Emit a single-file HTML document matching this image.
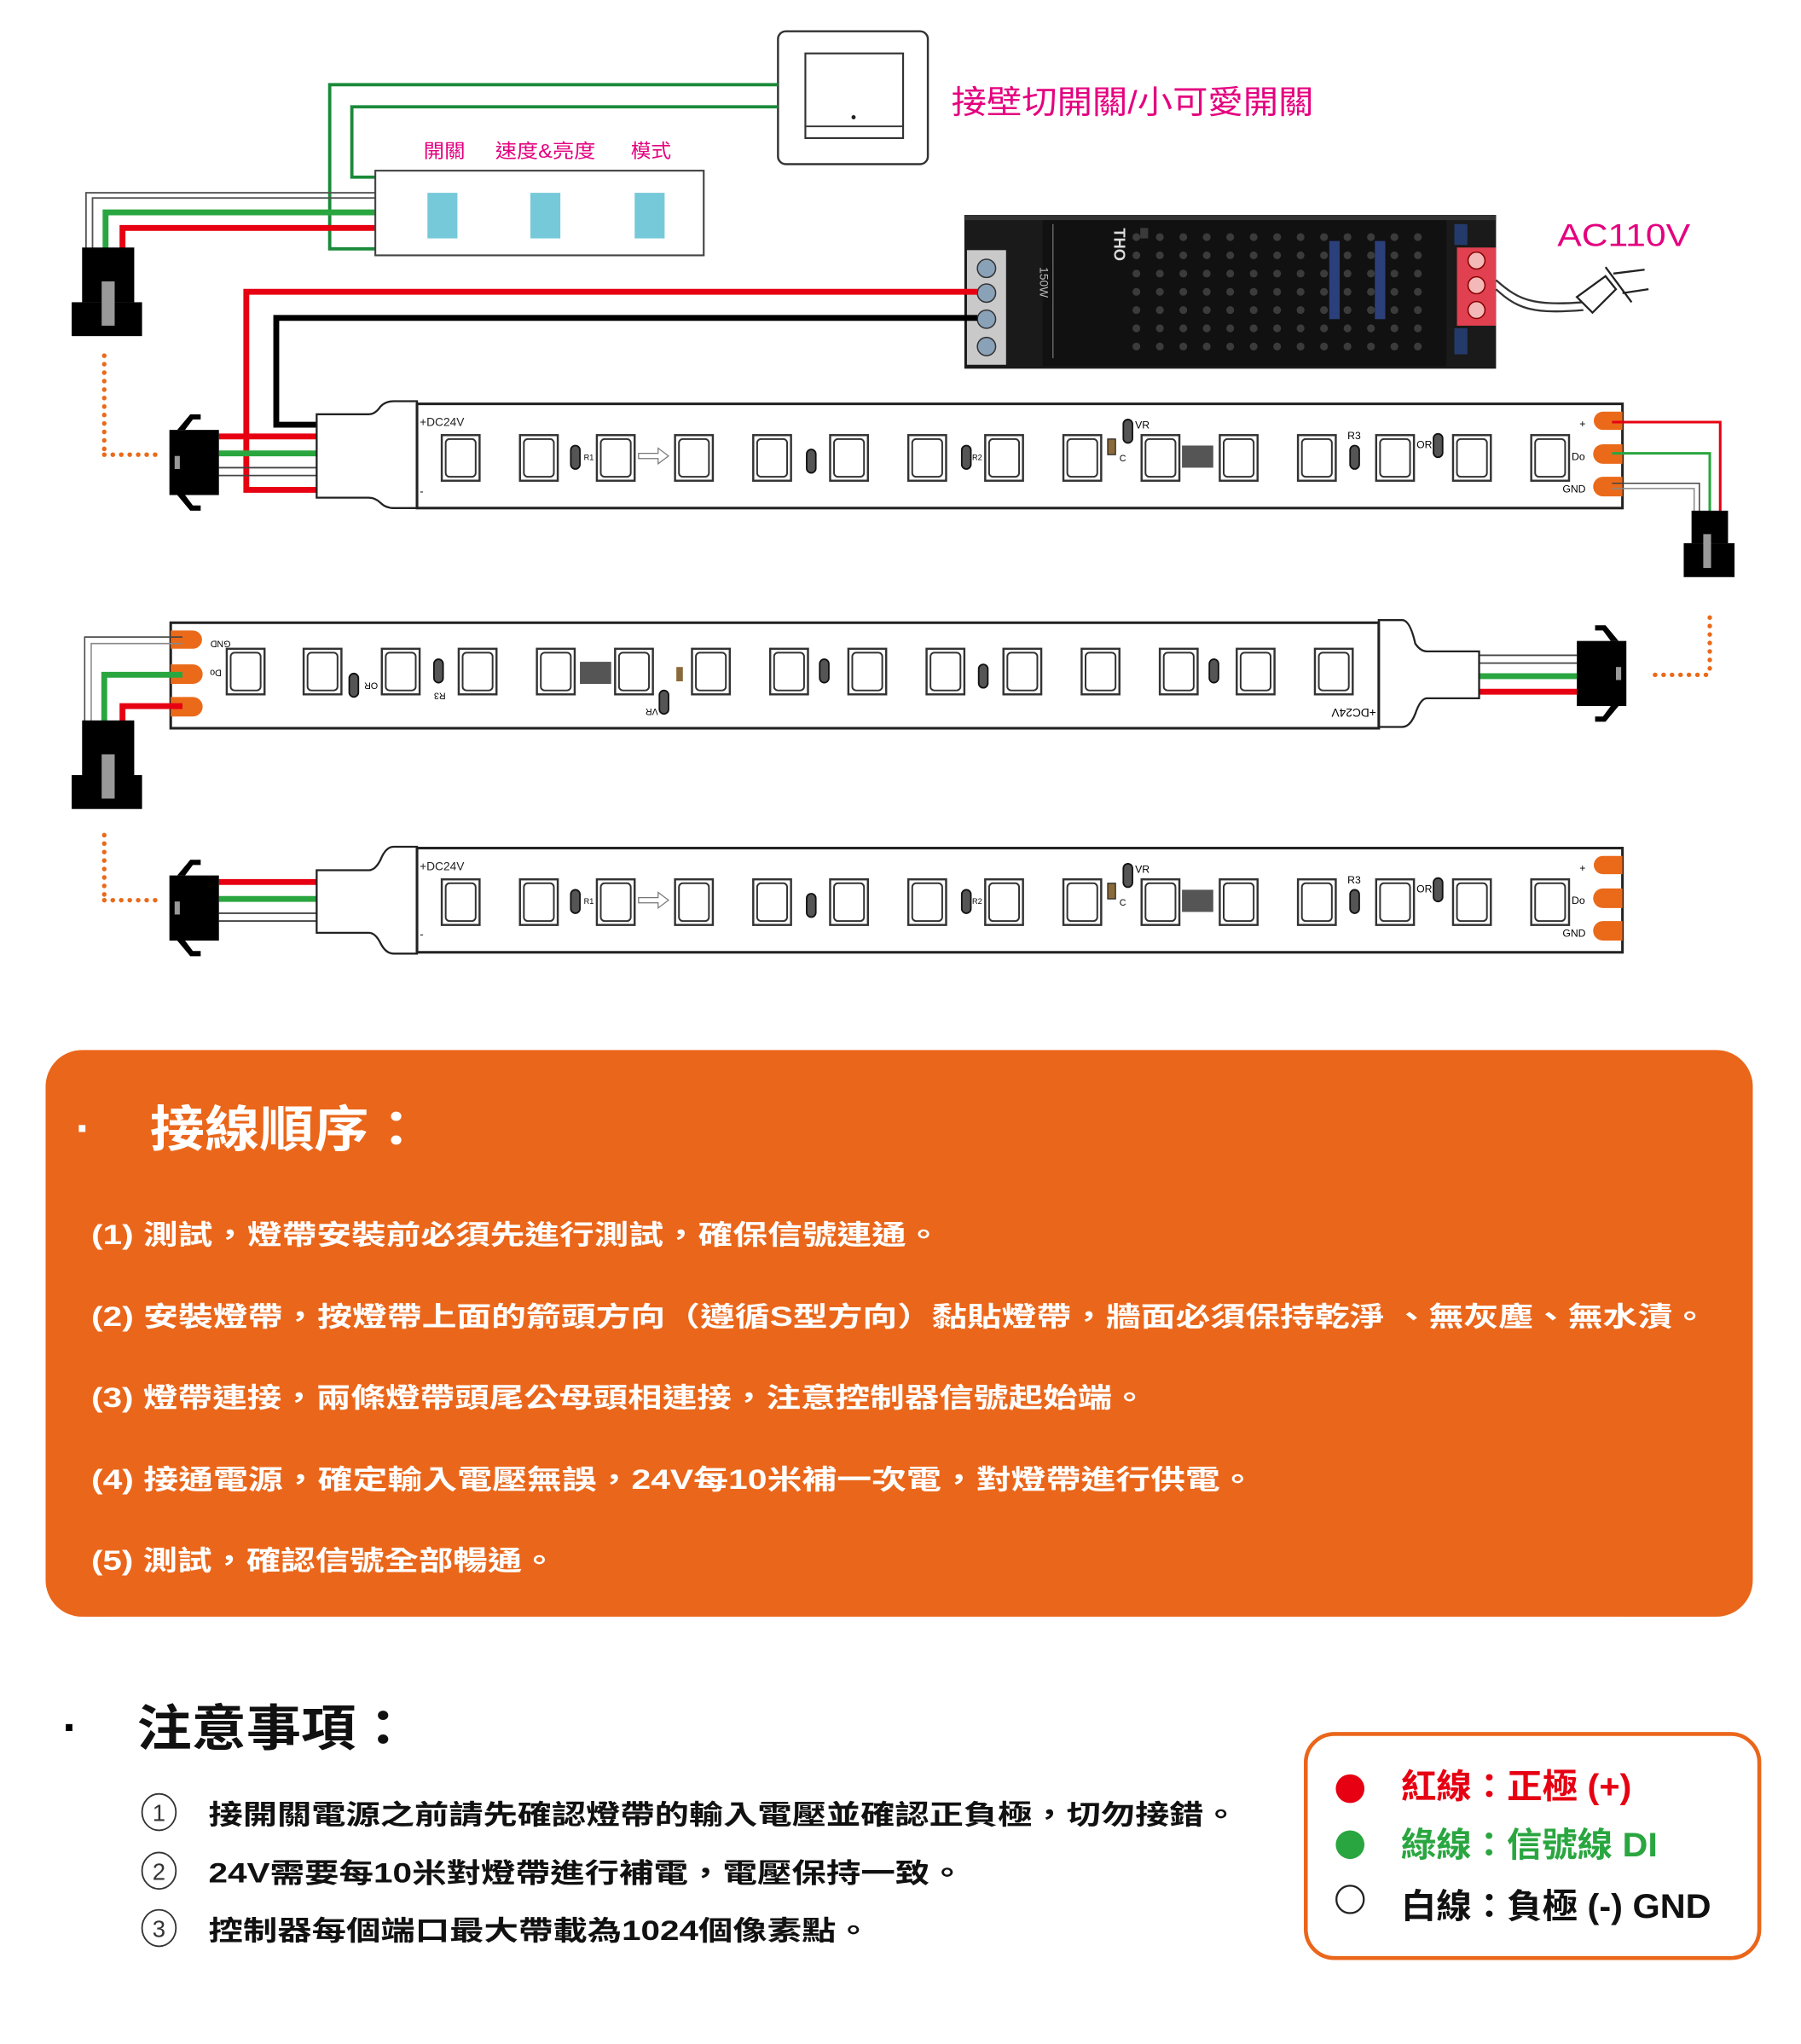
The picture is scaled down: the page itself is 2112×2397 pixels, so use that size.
<!DOCTYPE html>
<html><head><meta charset="utf-8"><style>
html,body{margin:0;padding:0;background:#fff}
svg{display:block}
text{font-family:"Liberation Sans","Noto Sans CJK TC",sans-serif}
</style></head><body>
<svg width="2112" height="2397" viewBox="0 0 1382 1569" preserveAspectRatio="none" xmlns="http://www.w3.org/2000/svg">
<defs>
<g id="led">
<rect x="0" y="0" width="29" height="35" fill="#fff" stroke="#333" stroke-width="1.6"/>
<rect x="3" y="3" width="23" height="29" rx="3" fill="#fff" stroke="#333" stroke-width="1.3"/>
</g>
<g id="res"><rect x="0" y="0" width="7" height="18" rx="3.5" fill="#555" stroke="#111" stroke-width="1.2"/></g>
<g id="conn">
<rect x="0" y="12" width="38" height="50" fill="#000"/>
<polygon points="6,12 16,0 24,0 24,4 18,4 12,12" fill="#000"/>
<polygon points="6,62 16,74 24,74 24,70 18,70 12,62" fill="#000"/>
<rect x="4" y="32" width="4" height="10" fill="#999"/>
</g>
<g id="bigconn">
<rect x="8" y="0" width="40" height="42" fill="#000"/>
<rect x="0" y="42" width="54" height="26" fill="#000"/>
<rect x="23" y="26" width="10" height="34" fill="#999"/>
</g>
<g id="dotsV"><circle r="2.3" fill="#ea6a1a"/></g>
</defs>

<!-- wall switch -->
<rect x="597" y="24" width="115" height="102" rx="6" fill="#fff" stroke="#333" stroke-width="1.6"/>
<rect x="618" y="41" width="75" height="65" fill="#fff" stroke="#333" stroke-width="1.4"/>
<line x1="618" y1="97" x2="693" y2="97" stroke="#333" stroke-width="1.2"/>
<circle cx="655" cy="90" r="1.6" fill="#222"/>
<text x="730" y="87" font-size="25" fill="#e4007f" textLength="278" lengthAdjust="spacingAndGlyphs">接壁切開關/小可愛開關</text>

<!-- green wires switch -> controller -->
<polyline points="597,65 253,65 253,191 288,191" fill="none" stroke="#1a8a3a" stroke-width="2.5"/>
<polyline points="597,82 270,82 270,136 288,136" fill="none" stroke="#1a8a3a" stroke-width="2.5"/>

<!-- controller -->
<text x="325" y="121" font-size="15" fill="#e4007f" textLength="32" lengthAdjust="spacingAndGlyphs">開關</text>
<text x="380" y="121" font-size="15" fill="#e4007f" textLength="77" lengthAdjust="spacingAndGlyphs">速度&amp;亮度</text>
<text x="484" y="121" font-size="15" fill="#e4007f" textLength="31" lengthAdjust="spacingAndGlyphs">模式</text>

<!-- wires controller -> left connector -->
<polyline points="288,148 66,148 66,192" fill="none" stroke="#555" stroke-width="1.2"/>
<polyline points="288,152 71,152 71,192" fill="none" stroke="#555" stroke-width="1.2"/>
<polyline points="288,163 81,163 81,192" fill="none" stroke="#2aa640" stroke-width="4.5"/>
<polyline points="288,175 94,175 94,192" fill="none" stroke="#e60012" stroke-width="4.5"/>
<rect x="288" y="131" width="252" height="65" fill="#fff" stroke="#444" stroke-width="1.4"/>
<rect x="328" y="148" width="23" height="35" fill="#76c9d9"/>
<rect x="407" y="148" width="23" height="35" fill="#76c9d9"/>
<rect x="487" y="148" width="23" height="35" fill="#76c9d9"/>
<use href="#bigconn" x="55" y="190"/>

<!-- PSU -->
<rect x="740" y="165" width="408" height="118" fill="#1a1a1a"/>
<rect x="740" y="165" width="408" height="4" fill="#333"/>
<rect x="800" y="169" width="310" height="112" fill="#111"/>
<rect x="742" y="192" width="30" height="88" fill="#c9c9c9"/>
<g fill="#8aa2b8" stroke="#333" stroke-width="1">
<circle cx="757" cy="206" r="7"/><circle cx="757" cy="225" r="7"/><circle cx="757" cy="245" r="7"/><circle cx="757" cy="266" r="7"/></g>
<rect x="1118" y="190" width="30" height="60" fill="#e04050"/>
<g fill="#f3b8b8" stroke="#800" stroke-width="1"><circle cx="1133" cy="200" r="6.5"/><circle cx="1133" cy="219" r="6.5"/><circle cx="1133" cy="238" r="6.5"/></g>
<rect x="1116" y="172" width="10" height="16" fill="#243a6a"/>
<rect x="1116" y="252" width="10" height="20" fill="#243a6a"/>
<line x1="808" y1="172" x2="808" y2="275" stroke="#777" stroke-width="0.8"/>
<text x="0" y="0" font-size="12" fill="#ddd" transform="translate(855,175) rotate(90)" font-weight="bold">THO</text>
<text x="0" y="0" font-size="9" fill="#bbb" transform="translate(798,205) rotate(90)">150W</text>
<g fill="#3a3a3a">
<rect x="875" y="175" width="6" height="8"/>
</g>
<g id="holes" fill="#3b3b3b">
<circle cx="872" cy="182" r="3"/><circle cx="890" cy="182" r="3"/><circle cx="908" cy="182" r="3"/><circle cx="926" cy="182" r="3"/><circle cx="944" cy="182" r="3"/><circle cx="962" cy="182" r="3"/><circle cx="980" cy="182" r="3"/><circle cx="998" cy="182" r="3"/><circle cx="1016" cy="182" r="3"/><circle cx="1034" cy="182" r="3"/><circle cx="1052" cy="182" r="3"/><circle cx="1070" cy="182" r="3"/><circle cx="1088" cy="182" r="3"/>
</g>
<use href="#holes" y="14"/><use href="#holes" y="28"/><use href="#holes" y="42"/><use href="#holes" y="56"/><use href="#holes" y="70"/><use href="#holes" y="84"/>
<g fill="#2b3f7a"><rect x="1020" y="185" width="8" height="60"/><rect x="1055" y="185" width="8" height="60"/></g>
<path d="M1148,215 C1165,230 1175,235 1215,232" fill="none" stroke="#333" stroke-width="1.5"/>
<path d="M1148,222 C1165,238 1178,241 1215,238" fill="none" stroke="#333" stroke-width="1.5"/>
<path d="M1210,228 L1232,212 L1240,222 L1222,240 Z M1232,205 L1252,232 M1238,210 L1262,207 M1245,225 L1265,222" fill="#fff" stroke="#222" stroke-width="1.5"/>
<text x="1195" y="189" font-size="24" fill="#e4007f" textLength="102" lengthAdjust="spacingAndGlyphs">AC110V</text>

<!-- PSU wires -->
<polyline points="750,224 189,224 189,376 243,376" fill="none" stroke="#e60012" stroke-width="4.5"/>
<polyline points="750,244 212,244 212,326 243,326" fill="none" stroke="#000" stroke-width="4.5"/>

<!-- orange dotted line 1 -->
<line x1="80" y1="273" x2="80" y2="349" stroke="#ea6a1a" stroke-width="3.5" stroke-dasharray="0.1 6.4" stroke-linecap="round"/>
<line x1="80" y1="349" x2="124" y2="349" stroke="#ea6a1a" stroke-width="3.5" stroke-dasharray="0.1 6.4" stroke-linecap="round"/>

<!-- STRIP 1 -->
<line x1="168" y1="335" x2="243" y2="335" stroke="#e60012" stroke-width="4.5"/>
<line x1="168" y1="348" x2="243" y2="348" stroke="#2aa640" stroke-width="4.5"/>
<line x1="168" y1="359" x2="243" y2="359" stroke="#444" stroke-width="1.2"/>
<line x1="168" y1="365" x2="243" y2="365" stroke="#444" stroke-width="1.2"/>
<use href="#conn" x="130" y="318"/>
<path d="M243,318 L283,318 Q288,318 292,312 Q296,308 302,308 L320,308 L320,390 L302,390 Q296,390 292,386 Q288,382 283,382 L243,382 Z" fill="#fff" stroke="#222" stroke-width="1.5"/>
<rect x="320" y="310" width="925" height="80" fill="#fff" stroke="#222" stroke-width="2"/>
<text x="322" y="327" font-size="9" fill="#222">+DC24V</text>
<text x="322" y="380" font-size="9" fill="#222">-</text>
<g>
<use href="#led" x="339" y="334"/><use href="#led" x="399" y="334"/><use href="#led" x="458" y="334"/><use href="#led" x="518" y="334"/><use href="#led" x="578" y="334"/><use href="#led" x="637" y="334"/><use href="#led" x="697" y="334"/><use href="#led" x="756" y="334"/><use href="#led" x="816" y="334"/><use href="#led" x="876" y="334"/><use href="#led" x="936" y="334"/><use href="#led" x="996" y="334"/><use href="#led" x="1056" y="334"/><use href="#led" x="1115" y="334"/><use href="#led" x="1175" y="334"/>
</g>
<use href="#res" x="438" y="342"/><text x="448" y="353" font-size="6">R1</text>
<use href="#res" x="619" y="345"/>
<use href="#res" x="738" y="342"/><text x="746" y="353" font-size="6">R2</text>
<use href="#res" x="862" y="322"/><text x="871" y="329" font-size="8">VR</text>
<rect x="850" y="337" width="6" height="12" fill="#8a6a3a" stroke="#222" stroke-width="0.8"/><text x="859" y="354" font-size="7">C</text>
<rect x="907" y="342" width="24" height="17" fill="#555"/>
<use href="#res" x="1036" y="342"/><text x="1034" y="337" font-size="8">R3</text>
<use href="#res" x="1100" y="333"/><text x="1087" y="344" font-size="8">OR</text>
<path d="M490,348 L505,348 L505,344 L513,350 L505,356 L505,352 L490,352 Z" fill="#fff" stroke="#777" stroke-width="0.8"/>
<g fill="#ea6a1a"><path d="M1245,316 L1230,316 A7,7 0 0 0 1230,330 L1245,330 Z"/><path d="M1245,341 L1230,341 A7.5,7.5 0 0 0 1230,356 L1245,356 Z"/><path d="M1245,366 L1230,366 A7.5,7.5 0 0 0 1230,381 L1245,381 Z"/></g>
<text x="1212" y="328" font-size="8">+</text><text x="1206" y="353" font-size="8">Do</text><text x="1199" y="378" font-size="8">GND</text>
<polyline points="1237,324 1320,324 1320,393" fill="none" stroke="#e60012" stroke-width="2"/>
<polyline points="1237,348 1312,348 1312,393" fill="none" stroke="#2aa640" stroke-width="2"/>
<polyline points="1237,371 1304,371 1304,393" fill="none" stroke="#444" stroke-width="1"/>
<polyline points="1237,375 1300,375 1300,393" fill="none" stroke="#888" stroke-width="1"/>
<rect x="1298" y="392" width="28" height="25" fill="#000"/>
<rect x="1292" y="417" width="39" height="26" fill="#000"/>
<rect x="1307" y="410" width="6" height="26" fill="#999"/>

<!-- STRIP 2 (mirrored) -->
<line x1="1312" y1="474" x2="1312" y2="518" stroke="#ea6a1a" stroke-width="3.5" stroke-dasharray="0.1 6.4" stroke-linecap="round"/>
<line x1="1270" y1="518" x2="1312" y2="518" stroke="#ea6a1a" stroke-width="3.5" stroke-dasharray="0.1 6.4" stroke-linecap="round"/>
<line x1="1135" y1="503" x2="1210" y2="503" stroke="#444" stroke-width="1.2"/>
<line x1="1135" y1="509" x2="1210" y2="509" stroke="#444" stroke-width="1.2"/>
<line x1="1135" y1="519" x2="1210" y2="519" stroke="#2aa640" stroke-width="4.5"/>
<line x1="1135" y1="531" x2="1210" y2="531" stroke="#e60012" stroke-width="4.5"/>
<g transform="translate(1378,0) scale(-1,1)"><use href="#conn" x="130" y="480"/></g>
<path d="M1135,500 L1095,500 Q1090,500 1086,494 Q1082,476 1076,476 L1058,476 L1058,558 L1076,558 Q1082,558 1086,548 Q1090,536 1095,536 L1135,536 Z" fill="#fff" stroke="#222" stroke-width="1.5"/>
<rect x="131" y="478" width="927" height="81" fill="#fff" stroke="#222" stroke-width="2"/>
<g>
<use href="#led" x="174" y="498"/><use href="#led" x="233" y="498"/><use href="#led" x="293" y="498"/><use href="#led" x="352" y="498"/><use href="#led" x="412" y="498"/><use href="#led" x="472" y="498"/><use href="#led" x="531" y="498"/><use href="#led" x="591" y="498"/><use href="#led" x="651" y="498"/><use href="#led" x="711" y="498"/><use href="#led" x="770" y="498"/><use href="#led" x="830" y="498"/><use href="#led" x="890" y="498"/><use href="#led" x="949" y="498"/><use href="#led" x="1009" y="498"/>
</g>
<use href="#res" x="268" y="517"/><use href="#res" x="333" y="506"/><use href="#res" x="629" y="506"/><use href="#res" x="751" y="510"/><use href="#res" x="928" y="506"/><use href="#res" x="506" y="530"/>
<rect x="445" y="508" width="24" height="17" fill="#555"/>
<rect x="519" y="512" width="5" height="11" fill="#8a6a3a"/>
<text x="0" y="0" font-size="9" transform="translate(1056,544) rotate(180)">+DC24V</text>
<text x="0" y="0" font-size="7" transform="translate(177,492) rotate(180)">GND</text>
<text x="0" y="0" font-size="7" transform="translate(170,514) rotate(180)">Do</text>
<text x="0" y="0" font-size="7" transform="translate(290,524) rotate(180)">OR</text>
<text x="0" y="0" font-size="7" transform="translate(342,532) rotate(180)">R3</text>
<text x="0" y="0" font-size="7" transform="translate(505,544) rotate(180)">VR</text>
<g fill="#ea6a1a"><path d="M131,484 L148,484 A7,7 0 0 1 148,498 L131,498 Z"/><path d="M131,510 L148,510 A7.5,7.5 0 0 1 148,525 L131,525 Z"/><path d="M131,535 L148,535 A7.5,7.5 0 0 1 148,550 L131,550 Z"/></g>
<polyline points="140,489 65,489 65,555" fill="none" stroke="#444" stroke-width="1"/>
<polyline points="140,494 70,494 70,555" fill="none" stroke="#888" stroke-width="1"/>
<polyline points="140,518 80,518 80,555" fill="none" stroke="#2aa640" stroke-width="4.5"/>
<polyline points="140,542 94,542 94,555" fill="none" stroke="#e60012" stroke-width="4.5"/>
<use href="#bigconn" x="55" y="553"/>

<!-- STRIP 3 -->
<line x1="80" y1="641" x2="80" y2="691" stroke="#ea6a1a" stroke-width="3.5" stroke-dasharray="0.1 6.4" stroke-linecap="round"/>
<line x1="80" y1="691" x2="124" y2="691" stroke="#ea6a1a" stroke-width="3.5" stroke-dasharray="0.1 6.4" stroke-linecap="round"/>
<line x1="168" y1="677" x2="243" y2="677" stroke="#e60012" stroke-width="4.5"/>
<line x1="168" y1="690" x2="243" y2="690" stroke="#2aa640" stroke-width="4.5"/>
<line x1="168" y1="701" x2="243" y2="701" stroke="#444" stroke-width="1.2"/>
<line x1="168" y1="707" x2="243" y2="707" stroke="#444" stroke-width="1.2"/>
<use href="#conn" x="130" y="660"/>
<path d="M243,668 L283,668 Q288,668 292,660 Q296,650 302,650 L320,650 L320,732 L302,732 Q296,732 292,724 Q288,716 283,716 L243,716 Z" fill="#fff" stroke="#222" stroke-width="1.5"/>
<rect x="320" y="651" width="925" height="80" fill="#fff" stroke="#222" stroke-width="2"/>
<text x="322" y="668" font-size="9" fill="#222">+DC24V</text>
<text x="322" y="720" font-size="9" fill="#222">-</text>
<g>
<use href="#led" x="339" y="675"/><use href="#led" x="399" y="675"/><use href="#led" x="458" y="675"/><use href="#led" x="518" y="675"/><use href="#led" x="578" y="675"/><use href="#led" x="637" y="675"/><use href="#led" x="697" y="675"/><use href="#led" x="756" y="675"/><use href="#led" x="816" y="675"/><use href="#led" x="876" y="675"/><use href="#led" x="936" y="675"/><use href="#led" x="996" y="675"/><use href="#led" x="1056" y="675"/><use href="#led" x="1115" y="675"/><use href="#led" x="1175" y="675"/>
</g>
<use href="#res" x="438" y="683"/><text x="448" y="694" font-size="6">R1</text>
<use href="#res" x="619" y="686"/>
<use href="#res" x="738" y="683"/><text x="746" y="694" font-size="6">R2</text>
<use href="#res" x="862" y="663"/><text x="871" y="670" font-size="8">VR</text>
<rect x="850" y="678" width="6" height="12" fill="#8a6a3a" stroke="#222" stroke-width="0.8"/><text x="859" y="695" font-size="7">C</text>
<rect x="907" y="683" width="24" height="17" fill="#555"/>
<use href="#res" x="1036" y="683"/><text x="1034" y="678" font-size="8">R3</text>
<use href="#res" x="1100" y="674"/><text x="1087" y="685" font-size="8">OR</text>
<path d="M490,689 L505,689 L505,685 L513,691 L505,697 L505,693 L490,693 Z" fill="#fff" stroke="#777" stroke-width="0.8"/>
<g fill="#ea6a1a"><path d="M1245,657 L1230,657 A7,7 0 0 0 1230,671 L1245,671 Z"/><path d="M1245,682 L1230,682 A7.5,7.5 0 0 0 1230,697 L1245,697 Z"/><path d="M1245,707 L1230,707 A7.5,7.5 0 0 0 1230,722 L1245,722 Z"/></g>
<text x="1212" y="669" font-size="8">+</text><text x="1206" y="694" font-size="8">Do</text><text x="1199" y="719" font-size="8">GND</text>

<!-- ORANGE BOX -->
<rect x="35" y="806" width="1310" height="435" rx="28" fill="#ea661a"/>
<text x="58" y="878" font-size="36" fill="#fff" font-weight="bold">·</text>
<text x="115" y="880" font-size="38" fill="#fff" font-weight="bold" textLength="210" lengthAdjust="spacingAndGlyphs">接線順序：</text>
<g fill="#fff" font-size="21" font-weight="bold">
<text x="70" y="955" textLength="652" lengthAdjust="spacingAndGlyphs">(1) 測試，燈帶安裝前必須先進行測試，確保信號連通。</text>
<text x="70" y="1018" textLength="1240" lengthAdjust="spacingAndGlyphs">(2) 安裝燈帶，按燈帶上面的箭頭方向（遵循S型方向）黏貼燈帶，牆面必須保持乾淨 、無灰塵、無水漬。</text>
<text x="70" y="1080" textLength="810" lengthAdjust="spacingAndGlyphs">(3) 燈帶連接，兩條燈帶頭尾公母頭相連接，注意控制器信號起始端。</text>
<text x="70" y="1143" textLength="893" lengthAdjust="spacingAndGlyphs">(4) 接通電源，確定輸入電壓無誤，24V每10米補一次電，對燈帶進行供電。</text>
<text x="70" y="1205" textLength="357" lengthAdjust="spacingAndGlyphs">(5) 測試，確認信號全部暢通。</text>
</g>

<!-- NOTES -->
<text x="48" y="1338" font-size="36" fill="#000" font-weight="bold">·</text>
<text x="105" y="1340" font-size="38" fill="#111" font-weight="bold" textLength="210" lengthAdjust="spacingAndGlyphs">注意事項：</text>
<g fill="none" stroke="#333" stroke-width="1.2">
<ellipse cx="122" cy="1391" rx="13" ry="14"/><ellipse cx="122" cy="1436" rx="13" ry="14"/><ellipse cx="122" cy="1480" rx="13" ry="14"/></g>
<g font-size="18" fill="#333" text-anchor="middle"><text x="122" y="1398">1</text><text x="122" y="1443">2</text><text x="122" y="1487">3</text></g>
<g fill="#111" font-size="21" font-weight="bold">
<text x="160" y="1400" textLength="790" lengthAdjust="spacingAndGlyphs">接開關電源之前請先確認燈帶的輸入電壓並確認正負極，切勿接錯。</text>
<text x="160" y="1445" textLength="580" lengthAdjust="spacingAndGlyphs">24V需要每10米對燈帶進行補電，電壓保持一致。</text>
<text x="160" y="1489" textLength="508" lengthAdjust="spacingAndGlyphs">控制器每個端口最大帶載為1024個像素點。</text>
</g>

<!-- LEGEND -->
<rect x="1002" y="1331" width="348" height="172" rx="22" fill="#fff" stroke="#ea661a" stroke-width="3"/>
<circle cx="1036" cy="1373" r="11" fill="#e60012"/>
<circle cx="1036" cy="1416" r="11" fill="#2aa640"/>
<circle cx="1036" cy="1458" r="10.5" fill="#fff" stroke="#222" stroke-width="1.5"/>
<text x="1075" y="1380" font-size="26" fill="#e60012" font-weight="bold" textLength="177" lengthAdjust="spacingAndGlyphs">紅線：正極 (+)</text>
<text x="1075" y="1425" font-size="26" fill="#2aa640" font-weight="bold" textLength="197" lengthAdjust="spacingAndGlyphs">綠線：信號線 DI</text>
<text x="1075" y="1472" font-size="26" fill="#111" font-weight="bold" textLength="238" lengthAdjust="spacingAndGlyphs">白線：負極 (-) GND</text>
</svg>
</body></html>
